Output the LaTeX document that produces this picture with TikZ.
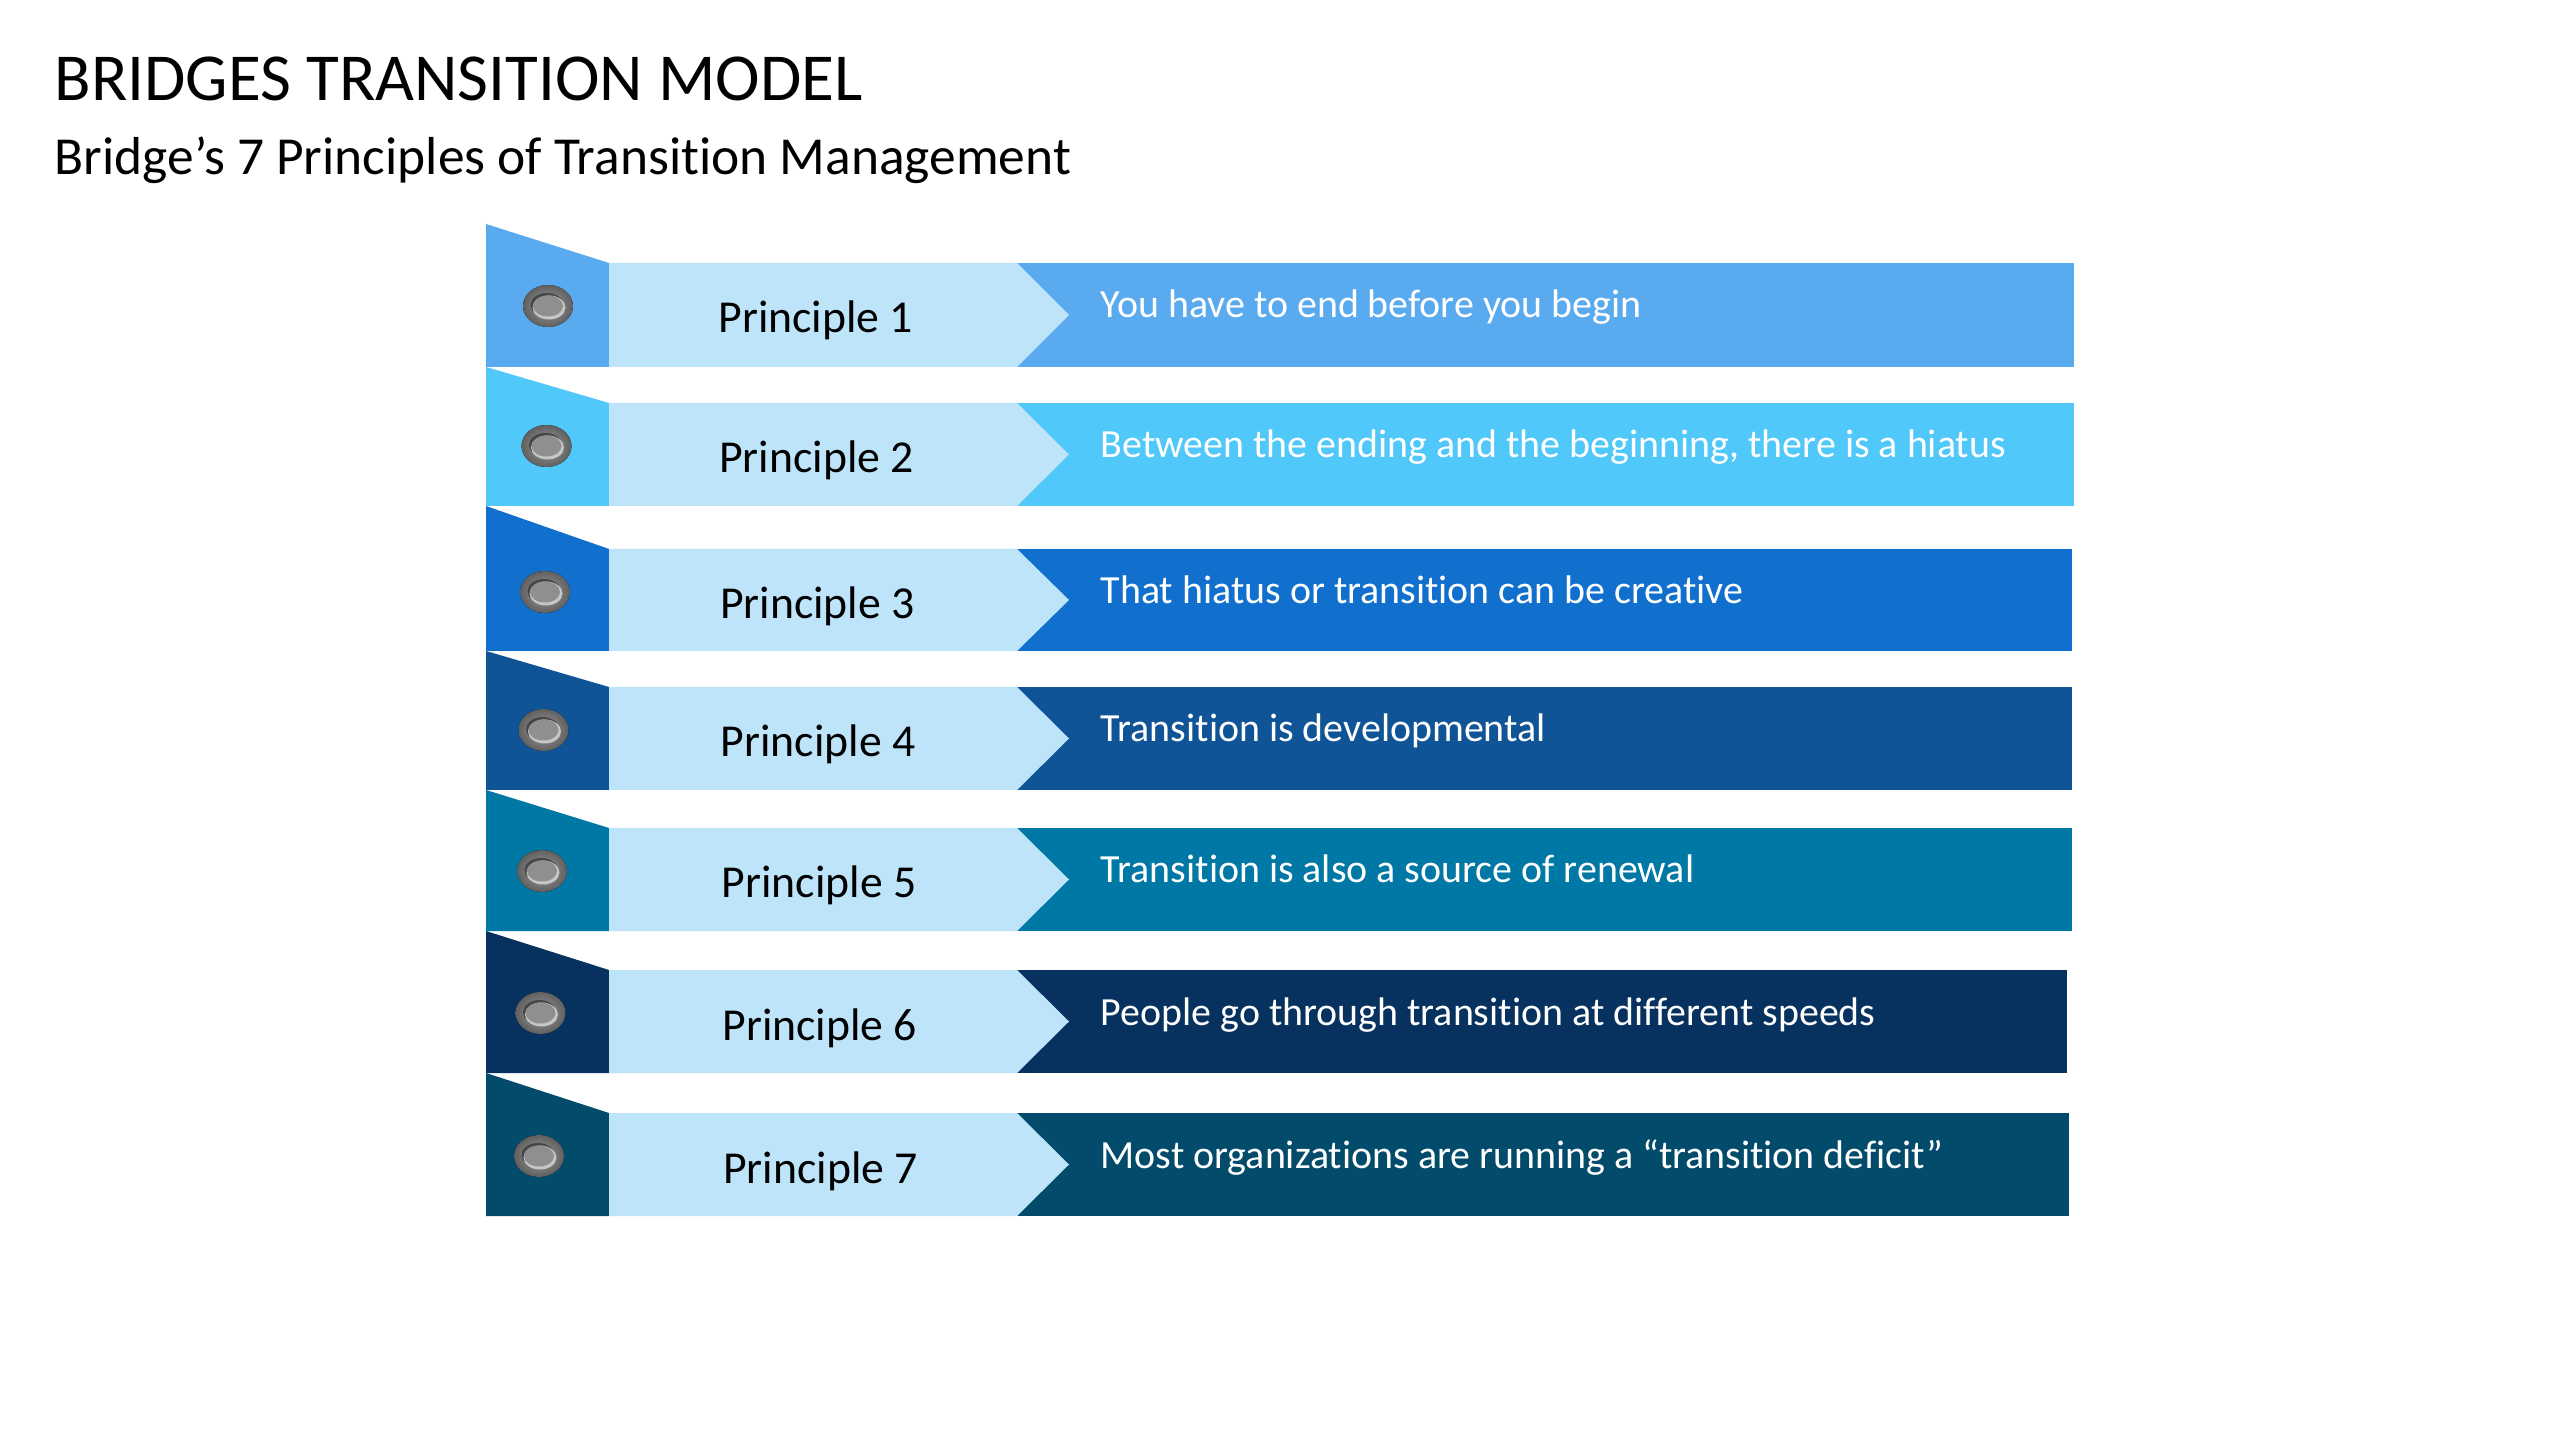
\documentclass[tikz,border=0pt]{standalone}
\usepackage{fontspec}
\setmainfont{Carlito}[RawFeature={-liga}]
\definecolor{cA}{HTML}{5AAAF0}
\definecolor{cB}{HTML}{50C8FA}
\definecolor{cC}{HTML}{1170CD}
\definecolor{cD}{HTML}{0F5496}
\definecolor{cE}{HTML}{0078A5}
\definecolor{cF}{HTML}{07325F}
\definecolor{cG}{HTML}{034B6B}
\definecolor{stripcol}{HTML}{BEE4FA}
\tikzset{
  titletext/.style={anchor=base west, inner sep=0pt, font=\fontsize{19.1pt}{23pt}\selectfont},
  subtext/.style={anchor=base west, inner sep=0pt, font=\fontsize{15.2pt}{18pt}\selectfont},
  ptext/.style={anchor=base, inner sep=0pt, text=black, font=\fontsize{13pt}{16pt}\selectfont},
  dtext/.style={anchor=base west, inner sep=0pt, text=white, font=\fontsize{11.35pt}{14pt}\selectfont},
  strip/.style={fill=stripcol},
  btnouter/.style={inner color=gray!75, outer color=gray!75!black},
}
\begin{document}
\begin{tikzpicture}[x=0.01cm,y=-0.01cm]
\useasboundingbox[fill=white] (0,0) rectangle (2560,1440);
\node[titletext] (title) at (54,101) {BRIDGES TRANSITION MODEL};
\node[subtext] (subtitle) at (54,175) {Bridge’s 7 Principles of Transition Management};
\foreach \i/\T/\B/\M/\U/\R/\c/\txt in {
  1/263/367/315/224/2074/cA/{You have to end before you begin},
  2/403/506/454.5/367/2074/cB/{Between the ending and the beginning, there is a hiatus},
  3/549/651/600/506/2072/cC/{That hiatus or transition can be creative},
  4/687/790/738.5/651/2072/cD/{Transition is developmental},
  5/828/931/879.5/790/2072/cE/{Transition is also a source of renewal},
  6/970/1073/1021.5/931/2067/cF/{People go through transition at different speeds},
  7/1113/1216/1164.5/1073/2069/cG/{Most organizations are running a “transition deficit”}}{
  \fill[\c] (999,\T) rectangle (\R,\B);
  \fill[\c] (486,\U) -- (609,\T) -- (609,\B) -- (486,\B) -- cycle;
  \fill[strip] (609,\T) -- (1017,\T) -- (1069,\M) -- (1017,\B) -- (609,\B) -- cycle;
  \fill[btnouter] (548-1.5*\i+1.5,\T+43) ellipse [x radius=25, y radius=21];
  \fill[gray!55!black] (548-1.5*\i+0.5,\T+42) ellipse [x radius=16.5, y radius=12];
  \fill[gray!45] (548-1.5*\i+2.5,\T+44.5) ellipse [x radius=16.5, y radius=12];
  \fill[gray!88] (548-1.5*\i+1.5,\T+43) ellipse [x radius=15, y radius=10.5];
  \node[ptext] (p\i) at (815+0.8*\i,\T+70) {Principle \i};
  \node[dtext] (d\i) at (1100,\T+55) {\txt};
}
\end{tikzpicture}
\end{document}
